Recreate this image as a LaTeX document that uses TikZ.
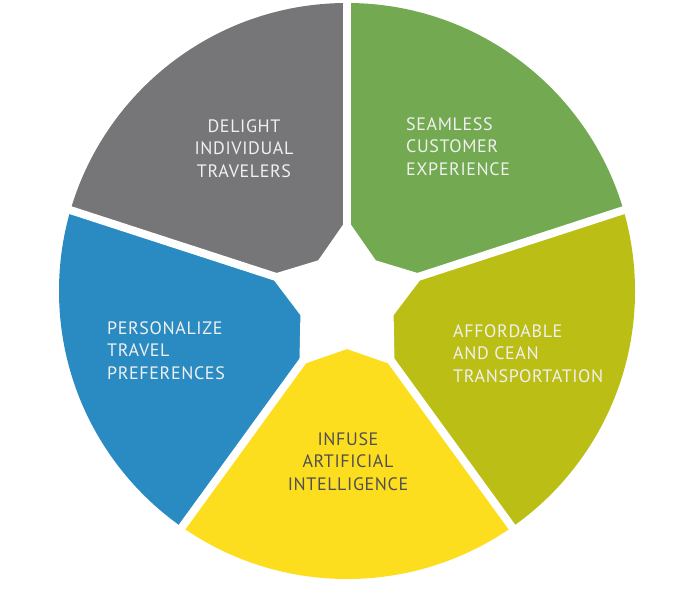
\documentclass[tikz,border=0pt]{standalone}
\usepackage{fontspec}
\setmainfont{PT Sans}[LetterSpace=3.5]
\usetikzlibrary{calc}
\definecolor{cgray}{RGB}{118,118,120}
\definecolor{cgreen}{RGB}{114,169,81}
\definecolor{colive}{RGB}{187,190,20}
\definecolor{cyellow}{RGB}{253,222,30}
\definecolor{cblue}{RGB}{42,139,194}
\definecolor{txtw}{RGB}{240,240,240}
\definecolor{txtd}{RGB}{80,80,84}
\begin{document}
\begin{tikzpicture}[x=1pt,y=1pt,
  lbl/.style={inner sep=0pt, font=\fontsize{18}{22.8}\selectfont, text=txtw},
  gapline/.style={white, line width=8pt}]
\useasboundingbox (0,0) rectangle (692,614);
\coordinate (O) at (347,323);
\coordinate (S) at (347,314);
\begin{scope}
  \clip (O) circle (288);
  \foreach \a/\c in {90/cgray,18/cgreen,-54/colive,-126/cyellow,162/cblue}{
    \fill[\c] (S) -- ($(S)+(\a:700)$) arc[start angle=\a, end angle=\a+72, radius=700] -- cycle;
  }
\end{scope}
\foreach \a in {18,90,162,234,306}{
  \coordinate (E\a) at ($(S)+(\a:400)$);
  \draw[gapline] (S) -- (E\a);
}
\fill[white] ($(S)+(90:81)$) -- ($(S)+(126:49)$) -- ($(S)+(162:81)$) -- ($(S)+(198:49)$)
  -- ($(S)+(234:81)$) -- ($(S)+(270:49)$) -- ($(S)+(306:81)$) -- ($(S)+(342:49)$)
  -- ($(S)+(18:81)$) -- ($(S)+(54:49)$) -- cycle;
\node[lbl, anchor=north, align=center] (delight) at (244,495) {DELIGHT\\INDIVIDUAL\\TRAVELERS};
\node[lbl, anchor=north west, align=left] (seamless) at (406,497) {SEAMLESS\\CUSTOMER\\EXPERIENCE};
\node[lbl, anchor=north west, align=left] (afford) at (453,290) {AFFORDABLE\\AND CEAN\\TRANSPORTATION};
\node[lbl, anchor=north, align=center, text=txtd] (infuse) at (348,182) {INFUSE\\ARTIFICIAL\\INTELLIGENCE};
\node[lbl, anchor=north west, align=left] (personalize) at (107,293) {PERSONALIZE\\TRAVEL\\PREFERENCES};
\end{tikzpicture}
\end{document}
